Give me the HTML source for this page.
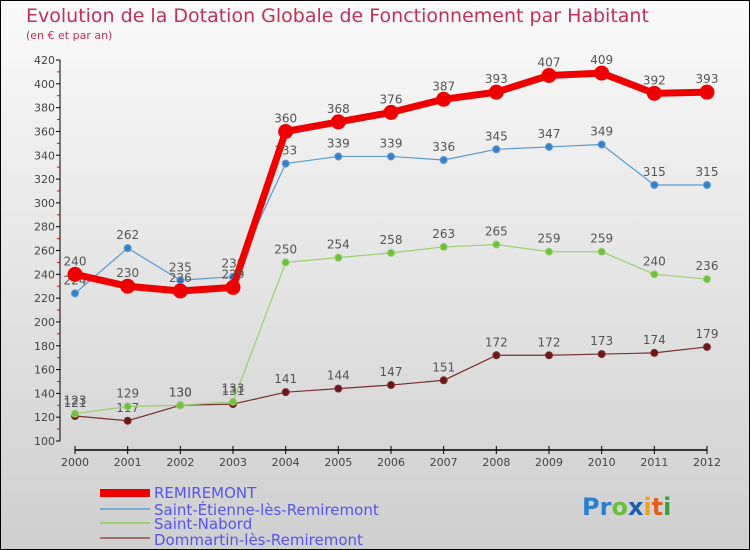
<!DOCTYPE html>
<html><head><meta charset="utf-8"><style>
body{margin:0}
svg{display:block;font-family:"DejaVu Sans","Liberation Sans",sans-serif}
</style></head><body>
<svg id="c" width="750" height="550" xmlns="http://www.w3.org/2000/svg">
<defs><linearGradient id="bg" x1="0" y1="0" x2="0" y2="1"><stop offset="0" stop-color="#fafafa"/><stop offset="1" stop-color="#cfcfcf"/></linearGradient></defs>
<rect x="0.5" y="0.5" width="749" height="549" fill="url(#bg)" stroke="#000"/>
<text x="26" y="22" font-size="19" fill="#c0305a">Evolution de la Dotation Globale de Fonctionnement par Habitant</text>
<text x="26" y="39" font-size="11" fill="#c0305a">(en € et par an)</text>
<g id="axes"></g><g id="series"></g>
<g>
<rect x="100" y="489" width="50" height="8" fill="#e00"/>
<text x="154" y="498" font-size="15" fill="#5555ee">REMIREMONT</text>
<rect x="100" y="508" width="50" height="2" fill="#7aaad0"/>
<text x="154" y="515" font-size="15" fill="#5555ee">Saint-Étienne-lès-Remiremont</text>
<rect x="100" y="522" width="50" height="2" fill="#9ad070"/>
<text x="154" y="529" font-size="15" fill="#5555ee">Saint-Nabord</text>
<rect x="100" y="537" width="50" height="2" fill="#a07070"/>
<text x="154" y="545" font-size="15" fill="#5555ee">Dommartin-lès-Remiremont</text>
</g>
<text x="582" y="515" font-size="24" font-weight="bold"><tspan fill="#2a7fd0">Pr</tspan><tspan fill="#6abf3a">o</tspan><tspan fill="#1a5fb0">x</tspan><tspan fill="#f0a020">i</tspan><tspan fill="#e06020">t</tspan><tspan fill="#3aa03a">i</tspan></text>
</svg>
<script>
const years=[2000,2001,2002,2003,2004,2005,2006,2007,2008,2009,2010,2011,2012];
const remiremont=[240,230,226,229,360,368,376,387,393,407,409,392,393];
const saintEtienne=[224,262,235,238,333,339,339,336,345,347,349,315,315];
const saintNabord=[123,129,130,133,250,254,258,263,265,259,259,240,236];
const dommartin=[121,117,130,131,141,144,147,151,172,172,173,174,179];
const yTicks=[100,120,140,160,180,200,220,240,260,280,300,320,340,360,380,400,420];
const NS="http://www.w3.org/2000/svg";
const x=i=>75+i*(707-75)/(years.length-1);
const y=v=>441-(v-100)*(441-60)/320;
function mk(tag,attrs,parent){const e=document.createElementNS(NS,tag);for(const k in attrs)e.setAttribute(k,attrs[k]);parent.appendChild(e);return e;}
const ax=document.getElementById('axes');
const yl=mk('line',{x1:60,y1:y(420),x2:60,y2:y(100),stroke:'#000'},ax);


yTicks.forEach((t,i)=>{
 mk('line',{x1:56,x2:60,y1:y(t),y2:y(t),stroke:'#000'},ax);
 if(i<yTicks.length-1)mk('line',{x1:57,x2:60,y1:y(t+10),y2:y(t+10),stroke:'#e00'},ax);
 const tx=mk('text',{x:55,y:y(t)+4,'font-size':11,'text-anchor':'end',fill:'#444'},ax);
 tx.textContent=t;
 
 
});
const xl=mk('line',{x1:x(0),y1:450,x2:x(12),y2:450,stroke:'#000','stroke-width':1.5},ax);


years.forEach((yr,i)=>{
 mk('line',{x1:x(i),x2:x(i),y1:446,y2:454,stroke:'#000'},ax);
 const tx=mk('text',{x:x(i),y:466,'font-size':11,'text-anchor':'middle',fill:'#444'},ax);
 tx.textContent=yr;
 
 
});
const sg=document.getElementById('series');
function draw(data,name,color,dot,w,r){
 const g=mk('g',{},sg);
 
 
 mk('polyline',{points:data.map((v,i)=>x(i)+','+y(v)).join(' '),fill:'none',stroke:color,'stroke-width':w,'stroke-linejoin':'round'},g);
 data.forEach((v,i)=>{
  const c=mk('circle',{cx:x(i),cy:y(v),r:r,fill:dot,stroke:color,'stroke-width':1},g);
  
  
  const t=mk('text',{x:x(i),y:y(v)-9,'font-size':12,'text-anchor':'middle',fill:'#555'},g);
  t.textContent=v;
  
  
 });
}
draw(dommartin,'dommartin','#7a3030','#6a1818',1.2,3.5);
draw(saintNabord,'saint-nabord','#9ad070','#70c040',1.2,3.5);
draw(saintEtienne,'saint-etienne','#5a9ad0','#3a80c8',1.2,3.5);
draw(remiremont,'remiremont','#e00','#e00',7,7);
</script>
</body></html>
